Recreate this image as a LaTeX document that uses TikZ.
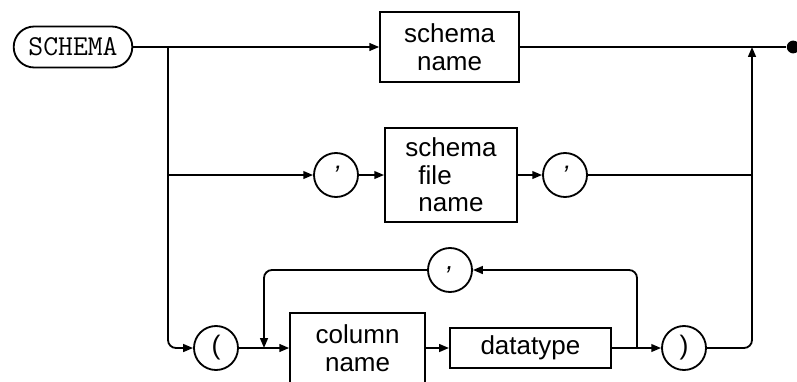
\documentclass[tikz,border=0pt]{standalone}
\usepackage{fontspec}
\setmainfont{Liberation Sans}
\usetikzlibrary{calc}
\usetikzlibrary{shapes}
\usetikzlibrary{arrows.meta}

\begin{document}
\begin{tikzpicture}[line width=1.3pt]
% % Diagram style
 \tikzset{
 	>={Triangle[length=7pt,width=5.5pt]},
 	kw/.style={draw,rounded rectangle,minimum width=3.2cm,minimum height=1.025cm,font=\ttfamily\fontsize{20.5}{20.5}\selectfont},
 	nt/.style={draw,rectangle,align=center,font=\fontsize{18.5}{19.5}\selectfont},
 	tok/.style={draw,circle,minimum size=1.1cm,inner sep=0pt,font=\fontsize{19}{19}\selectfont}
 }
 \useasboundingbox (0,0) rectangle (19.925,-9.525);
% % Keyword and boxes
 \node[kw] (SCHEMA) at (1.825,-1.175) {SCHEMA};
 \node[nt,minimum width=3.475cm,minimum height=1.75cm] (sname) at (11.24,-1.175) {schema\\name};
 \node[tok] (q1) at (8.4,-4.375) {\itshape '};
 \node[nt,minimum width=3.3cm,minimum height=2.35cm] (sfile) at (11.275,-4.375) {schema\\\rlap{file}\phantom{name}\\name};
 \node[tok] (q2) at (14.125,-4.375) {\itshape '};
 \node[tok] (lpar) at (5.4,-8.7) {(};
 \node[nt,minimum width=3.375cm,minimum height=1.75cm] (cname) at (8.94,-8.7) {column\\name};
 \node[nt,minimum width=4.025cm,minimum height=1cm] (dtype) at (13.26,-8.7) {datatype};
 \node[tok] (comma) at (11.25,-6.75) {\itshape ,};
 \node[tok] (rpar) at (17.1,-8.7) {)};
 \node[circle,fill,inner sep=0pt,minimum size=0.32cm] (done) at (19.83,-1.175) {};
% % branch points
 \coordinate (split) at (4.2,-1.175);
 \coordinate (join) at (18.8,-1.175);
 \coordinate (loopin) at (6.6,-8.7);
 \coordinate (loopout) at (15.925,-8.7);
% % Lines
 \draw (SCHEMA.east) -- (split);
 \draw[->] (split) -- (sname);
 \draw (sname) -- (done);
 \draw[->] (split |- q1) -- (q1);
 \draw[->] (q1) -- (sfile);
 \draw[->] (sfile) -- (q2);
 \draw (q2) -- (join |- q2);
 \draw[->,rounded corners=0.2cm] (split) |- (lpar);
 \draw[->] (lpar) -- (cname);
 \draw[->] (cname) -- (dtype);
 \draw[->] (dtype) -- (rpar);
 \draw[->,rounded corners=0.2cm] (rpar) -| (join);
 \draw[->,rounded corners=0.2cm] (loopout) |- (comma);
 \draw[->,rounded corners=0.2cm] (comma) -| (loopin);
\end{tikzpicture}
\end{document}
